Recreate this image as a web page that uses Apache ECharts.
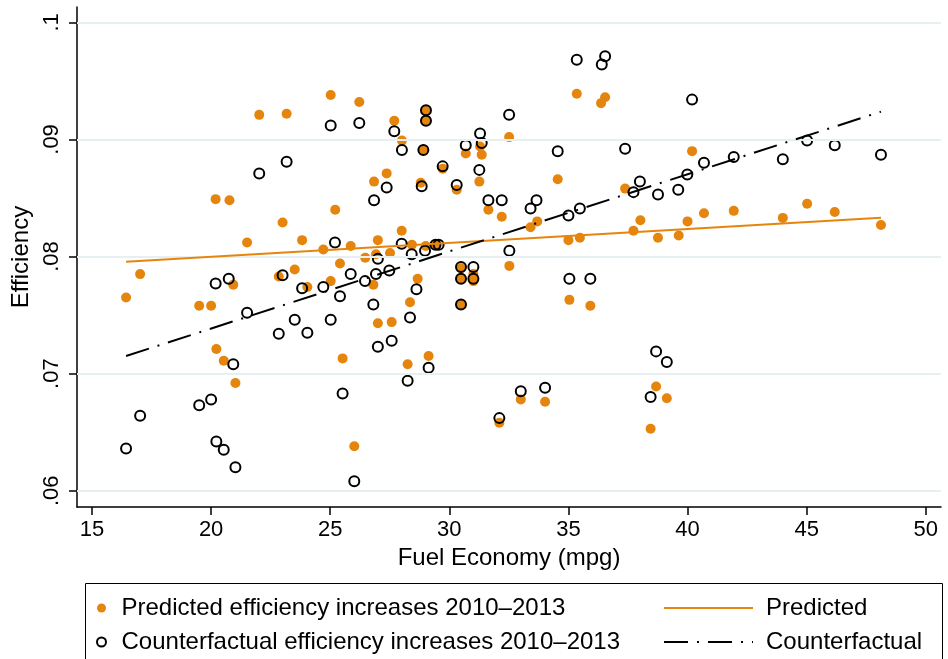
<!DOCTYPE html>
<html>
<head>
<meta charset="utf-8">
<script src="https://cdn.jsdelivr.net/npm/echarts@6/dist/echarts.min.js"></script>
<style>
html,body{margin:0;padding:0;background:#fff;}
#chart{width:948px;height:659px;}
</style>
</head>
<body>
<div id="chart"></div>
<script>
// Predicted efficiency increases (orange dots)
const predX = [16.43,17.02,19.5,20.0,20.19,20.77,20.93,20.22,20.53,21.02,21.51,22.02,23.17,23.0,23.82,22.84,23.51,24.04,24.71,25.02,26.22,25.21,25.41,25.02,25.86,25.52,26.01,26.47,26.81,27.0,26.92,27.51,27.0,27.58,26.84,27.37,27.69,28.01,28.0,28.43,28.67,28.35,28.25,29.13,28.8,28.91,29.02,29.02,29.01,29.45,29.72,30.31,30.69,30.49,30.49,31.01,31.01,30.49,31.29,31.36,31.26,31.64,32.2,32.51,32.52,32.1,33.0,33.41,33.69,34.02,34.55,35.0,35.48,35.04,35.92,35.35,36.37,36.54,37.38,37.73,38.02,38.76,39.63,40.0,40.19,40.69,41.94,44.0,45.02,46.18,48.12,38.68,39.13,38.45];
const predY = [0.0765,0.0785,0.0758,0.0758,0.0849,0.0848,0.0776,0.0721,0.0711,0.0692,0.0812,0.0921,0.0922,0.0829,0.0814,0.0783,0.0789,0.0774,0.0806,0.0938,0.0932,0.0840,0.0794,0.0779,0.0809,0.0713,0.0638,0.0799,0.0776,0.0814,0.0802,0.0803,0.0743,0.0744,0.0864,0.0871,0.0916,0.0899,0.0822,0.0810,0.0781,0.0761,0.0708,0.0715,0.0863,0.0891,0.0925,0.0916,0.0809,0.0810,0.0875,0.0857,0.0888,0.0790,0.0781,0.0785,0.0779,0.0759,0.0894,0.0887,0.0864,0.0840,0.0834,0.0902,0.0792,0.0658,0.0678,0.0825,0.0830,0.0676,0.0866,0.0814,0.0816,0.0763,0.0758,0.0939,0.0931,0.0936,0.0858,0.0822,0.0831,0.0816,0.0818,0.0830,0.0890,0.0837,0.0839,0.0833,0.0845,0.0838,0.0827,0.0689,0.0679,0.0653];
// Counterfactual efficiency increases (hollow circles)
const cfX = [16.43,17.02,19.5,20.0,20.19,20.74,20.93,20.22,20.53,21.02,21.51,22.02,23.17,23.0,23.82,22.84,23.51,24.04,24.71,25.02,26.22,25.2,25.41,25.02,25.86,25.52,26.01,26.46,26.81,27.0,26.92,27.48,27.0,27.58,26.84,27.37,27.69,28.01,28.0,28.42,28.62,28.35,28.25,29.13,28.84,28.91,29.02,29.02,28.98,29.42,29.55,29.72,30.31,30.69,30.49,30.49,31.01,31.01,30.49,31.29,31.36,31.26,31.64,32.2,32.51,32.52,32.1,33.0,33.41,33.66,34.02,34.55,35.0,35.48,35.04,35.92,35.35,36.4,36.54,37.38,37.73,38.0,38.76,39.61,39.99,40.19,40.69,41.94,44.0,45.02,46.18,48.12,38.68,39.13,38.45];
const cfY = [0.0636,0.0664,0.0673,0.0678,0.0777,0.0781,0.0708,0.0642,0.0635,0.0620,0.0752,0.0871,0.0881,0.0784,0.0773,0.0734,0.0746,0.0735,0.0774,0.0912,0.0914,0.0812,0.0766,0.0746,0.0785,0.0683,0.0608,0.0779,0.0759,0.0798,0.0785,0.0788,0.0723,0.0728,0.0848,0.0859,0.0907,0.0891,0.0811,0.0802,0.0772,0.0748,0.0694,0.0705,0.0860,0.0891,0.0925,0.0916,0.0805,0.0810,0.0810,0.0877,0.0861,0.0895,0.0791,0.0781,0.0791,0.0781,0.0759,0.0905,0.0897,0.0874,0.0848,0.0848,0.0921,0.0805,0.0662,0.0685,0.0841,0.0848,0.0688,0.0890,0.0835,0.0841,0.0781,0.0781,0.0968,0.0964,0.0971,0.0892,0.0855,0.0864,0.0853,0.0857,0.0870,0.0934,0.0880,0.0885,0.0883,0.0899,0.0895,0.0887,0.0719,0.0710,0.0680];
// Fitted lines (endpoints)
const predLineX = [16.43, 48.12];
const predLineY = [0.07956, 0.08331];
const cfLineX = [16.43, 48.12];
const cfLineY = [0.0715, 0.09237];
// Ticks
const xTicks = [15,20,25,30,35,40,45,50];
const yTicks = [0.06,0.07,0.08,0.09,0.1];
const yTickLabels = ['.06','.07','.08','.09','.1'];

const ORANGE = '#e6850e';
const FONT = 'Liberation Sans, Arial, sans-serif';
const zip = (a,b) => a.map((v,i)=>[v,b[i]]);

const chart = echarts.init(document.getElementById('chart'), null, {renderer:'canvas'});
chart.setOption({
  animation:false,
  backgroundColor:'#fff',
  textStyle:{fontFamily:FONT},
  grid:{left:77,right:7,top:7,bottom:152,containLabel:false},
  xAxis:{
    type:'value', min:14.37, max:50.64,
    name:'Fuel Economy (mpg)', nameLocation:'middle', nameGap:32,
    nameTextStyle:{fontSize:24,color:'#000',fontFamily:FONT},
    axisLine:{show:true,onZero:false,lineStyle:{color:'#000',width:1.5}},
    axisTick:{show:true,length:8,lineStyle:{color:'#000',width:1.5},customValues:xTicks},
    axisLabel:{show:true,fontSize:22,color:'#000',margin:12,fontFamily:FONT,customValues:xTicks,formatter:v=>String(Math.round(v))},
    splitLine:{show:false}
  },
  yAxis:{
    type:'value', min:0.05861, max:0.10131,
    name:'Efficiency', nameLocation:'middle', nameGap:41, nameRotate:90,
    nameTextStyle:{fontSize:24,color:'#000',fontFamily:FONT},
    axisLine:{show:true,onZero:false,lineStyle:{color:'#000',width:1.5}},
    axisTick:{show:true,length:8,lineStyle:{color:'#000',width:1.5},customValues:yTicks},
    axisLabel:{show:true,fontSize:22,color:'#000',margin:14,rotate:90,fontFamily:FONT,customValues:yTicks,
      formatter:v=>{const i=yTicks.findIndex(t=>Math.abs(t-v)<1e-9);return i>=0?yTickLabels[i]:'';}},
    splitLine:{show:false}
  },
  legend:[
    {orient:'vertical',left:96,top:595,height:80,padding:0,itemWidth:30,itemHeight:9,itemGap:8,
     data:['Predicted efficiency increases 2010–2013','Counterfactual efficiency increases 2010–2013'],
     textStyle:{fontSize:24,lineHeight:26,color:'#000',fontFamily:FONT}},
    {orient:'vertical',left:663,top:595,height:80,padding:0,itemWidth:89,itemHeight:14,itemGap:8,
     data:['Predicted','Counterfactual'],
     itemStyle:{color:'rgba(0,0,0,0)',borderWidth:0,opacity:0},
     textStyle:{fontSize:24,lineHeight:26,color:'#000',fontFamily:FONT,padding:[0,0,0,8]}}
  ],
  graphic:[
    {type:'rect',shape:{x:85.5,y:583.5,width:857,height:100},style:{fill:'none',stroke:'#000',lineWidth:1},silent:true}
  ],
  series:[
    {name:'grid',type:'line',data:[],silent:true,
     markLine:{silent:true,symbol:'none',label:{show:false},
       lineStyle:{color:'#e8eff2',width:2,type:'solid'},
       data:yTicks.map(v=>({yAxis:v}))}},
    {name:'Predicted efficiency increases 2010–2013',type:'scatter',symbol:'circle',symbolSize:10,
     itemStyle:{color:ORANGE,opacity:1},data:zip(predX,predY),z:3},
    {name:'Counterfactual efficiency increases 2010–2013',type:'scatter',symbol:'circle',symbolSize:10,
     itemStyle:{color:'rgba(0,0,0,0)',borderColor:'#000',borderWidth:2,opacity:1},data:zip(cfX,cfY),z:4},
    {name:'Predicted',type:'line',symbol:'none',showSymbol:false,
     lineStyle:{color:ORANGE,width:2},itemStyle:{color:ORANGE},data:zip(predLineX,predLineY),z:5},
    {name:'Counterfactual',type:'line',symbol:'none',showSymbol:false,
     lineStyle:{color:'#000',width:2,type:[24,9,2,9]},itemStyle:{color:'#000'},data:zip(cfLineX,cfLineY),z:5}
  ]
});
</script>
</body>
</html>
